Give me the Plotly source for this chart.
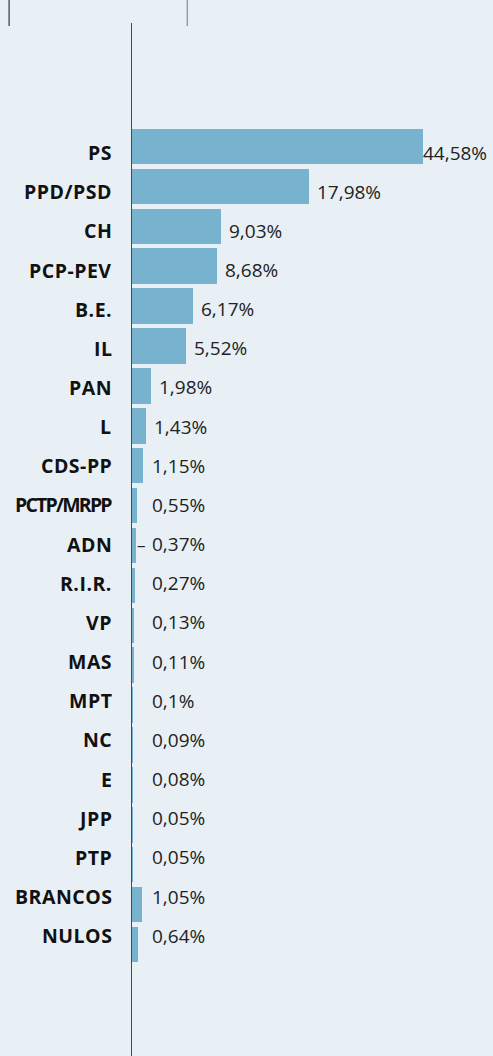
import plotly.graph_objects as go

parties = ["PS", "PPD/PSD", "CH", "PCP-PEV", "B.E.", "IL", "PAN", "L", "CDS-PP",
           "PCTP/MRPP", "ADN", "R.I.R.", "VP", "MAS", "MPT", "NC", "E", "JPP", "PTP",
           "BRANCOS", "NULOS"]
values = [44.58, 17.98, 9.03, 8.68, 6.17, 5.52, 1.98, 1.43, 1.15,
          0.55, 0.37, 0.27, 0.13, 0.11, 0.1, 0.09, 0.08, 0.05, 0.05,
          1.05, 0.64]
value_labels = ["44,58%", "17,98%", "9,03%", "8,68%", "6,17%", "5,52%", "1,98%", "1,43%", "1,15%",
                "0,55%", "0,37%", "0,27%", "0,13%", "0,11%", "0,1%", "0,09%", "0,08%", "0,05%", "0,05%",
                "1,05%", "0,64%"]
dashed = ["ADN"]
condensed = ["PCTP/MRPP"]

BAR_CAP = 29.6          # longest bar is drawn truncated in the original
X_MAX = 36.7
BG = "#e8f0f6"
BAR = "#77b3cf"
FONT = "Open Sans"

bar_len = [min(v, BAR_CAP) for v in values]

fig = go.Figure()
fig.add_trace(go.Bar(
    x=bar_len, y=parties, orientation="h", yaxis="y",
    marker=dict(color=BAR, line=dict(width=0)), width=0.89,
    hoverinfo="skip", showlegend=False,
))
# invisible trace on the label axis so categories exist there
fig.add_trace(go.Scatter(
    x=[0] * len(parties), y=parties, yaxis="y2", mode="markers",
    marker=dict(opacity=0), hoverinfo="skip", showlegend=False,
))

annotations = []
for p in parties:
    if p in condensed:
        txt = '<span style="letter-spacing:-1.8px">' + p + "</span>"
    else:
        txt = '<span style="letter-spacing:0.5px">' + p + "</span>"
    annotations.append(dict(
        x=0, y=p, xref="paper", yref="y2", text="<b>" + txt + "</b>", showarrow=False,
        xanchor="right", yanchor="middle", xshift=-18,
        font=dict(family=FONT, size=19.5, color="#111111"),
    ))

for p, bl, v, lab in zip(parties, bar_len, values, value_labels):
    if v > BAR_CAP:
        xpos = bl
    else:
        xpos = max(bl + 0.8, 2.0)
    annotations.append(dict(
        x=xpos, y=p, xref="x", yref="y2", text=lab, showarrow=False,
        xanchor="left", yanchor="middle", xshift=-2,
        font=dict(family=FONT, size=19, color="#222222"),
    ))
    if p in dashed:
        annotations.append(dict(
            x=xpos, y=p, xref="x", yref="y2", text="–", showarrow=False,
            xanchor="right", yanchor="middle", xshift=-4,
            font=dict(family=FONT, size=17, color="#222222"),
        ))

shapes = [
    dict(type="line", xref="paper", yref="paper", x0=-0.3405, x1=-0.3405, y0=0.9971, y1=1.03,
         line=dict(color="#111111", width=1)),
    dict(type="line", xref="paper", yref="paper", x0=0.153, x1=0.153, y0=0.9971, y1=1.03,
         line=dict(color="#777777", width=1)),
]

fig.update_layout(
    width=493, height=1056,
    margin=dict(l=132, r=0, t=23, b=0),
    paper_bgcolor=BG, plot_bgcolor=BG,
    bargap=0,
    xaxis=dict(range=[0, X_MAX], visible=False, fixedrange=True),
    yaxis=dict(type="category", categoryorder="array", categoryarray=parties,
               range=[22.795, -3.095], showticklabels=False, showgrid=False,
               zeroline=False, showline=True, linecolor="#4a4a4a", linewidth=1,
               ticks=""),
    yaxis2=dict(type="category", categoryorder="array", categoryarray=parties,
                overlaying="y", side="left", range=[23.07, -3.307],
                showgrid=False, zeroline=False, showline=False, ticks="",
                showticklabels=False),
    annotations=annotations,
    shapes=shapes,
)

fig.write_html("out.html", config={"displayModeBar": False},
               post_script="document.body.style.margin='0';")
